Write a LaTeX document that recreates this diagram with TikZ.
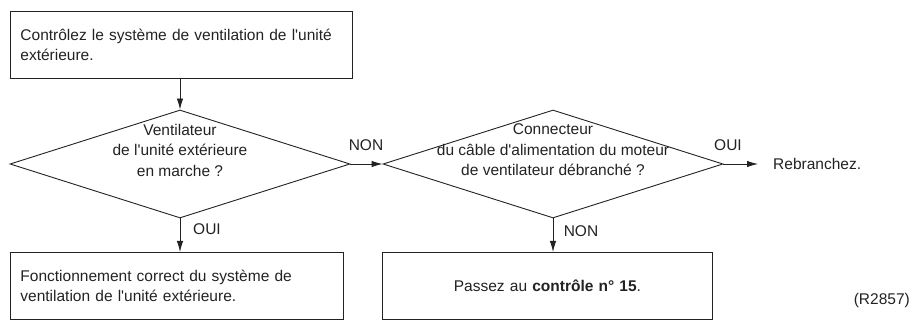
\documentclass[tikz,border=0pt]{standalone}
\usepackage{fontspec}
\setmainfont{Liberation Sans}[Ligatures=TeXOff]
\usetikzlibrary{arrows.meta,shapes.geometric}
\definecolor{ink}{HTML}{222222}
\begin{document}
\begin{tikzpicture}[x=1pt,y=-1pt,
  every node/.style={font=\fontsize{15.5}{20.5}\selectfont, text=ink},
  box/.style={draw=ink, line width=0.9pt, anchor=north west, inner xsep=10pt, inner ysep=0pt},
  decision/.style={diamond, draw=ink, line width=0.9pt, inner sep=0pt,
    minimum width=340pt, minimum height=108pt},
  flow/.style={draw=ink, line width=0.9pt, -{Latex[length=11pt,width=6.5pt]}},
  lbl/.style={inner sep=0pt},
]
\useasboundingbox (0,0) rectangle (915,320);

% boxes
\node[box, text width=322pt, minimum height=67pt, align=left] (start) at (10,11)
  {Contrôlez le système de ventilation de l'unité\\extérieure.};
\node[box, text width=313pt, minimum height=67pt, align=left] (ok) at (10,252)
  {Fonctionnement correct du système de\\ventilation de l'unité extérieure.};
\node[box, text width=310pt, minimum height=67pt, align=center] (next) at (382,252)
  {Passez au \textbf{contrôle n° 15}.};

% decisions
\node[decision] (d1) at (180,164) {};
\node[lbl, align=center] (d1t) at (180,150)
  {Ventilateur\\de l'unité extérieure\\en marche ?};
\node[decision] (d2) at (553,164) {};
\node[lbl, align=center] (d2t) at (553,150)
  {Connecteur\\du câble d'alimentation du moteur\\de ventilateur débranché ?};

\node[lbl, anchor=west] (rb) at (773,164) {Rebranchez.};

% connectors
\draw[flow] (d1.north |- start.south) -- (d1.north);
\draw[flow] (d1.east) -- (d2.west);
\draw[flow] (d2.east) -- ([xshift=-15pt]rb.west);
\draw[flow] (d1.south) -- (d1.south |- ok.north);
\draw[flow] (d2.south) -- (d2.south |- next.north);

% branch labels
\node[lbl] (l1) at (366,145) {NON};
\node[lbl] (l2) at (728,145) {OUI};
\node[lbl] (l3) at (207,229) {OUI};
\node[lbl] (l4) at (581,231) {NON};

\node[lbl, anchor=east] (ref) at (910,300) {(R2857)};
\end{tikzpicture}
\end{document}
